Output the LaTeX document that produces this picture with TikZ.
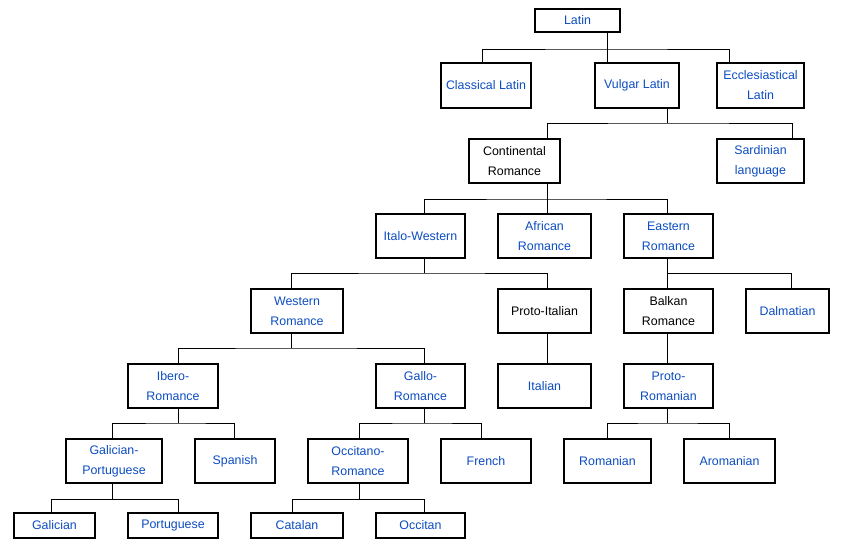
\documentclass[tikz,border=0pt]{standalone}
\usepackage{fontspec}
\setmainfont{Liberation Sans}
\usepackage{tikz}

\definecolor{linkblue}{HTML}{0B4CC0}

\begin{document}
\begin{tikzpicture}[x=1pt, y=-1pt,
        box/.style={draw, line width=2pt, align=center, inner sep=0pt,
                    font=\fontsize{12.4}{20}\selectfont, text=linkblue},
        plainbox/.style={box, text=black},
        link/.style={line width=0.8pt}]
                \useasboundingbox (0,0) rectangle (846,547);

                % row 1 and 2
                \node (latin) [box, minimum width=85pt, minimum height=23pt] at (577.5,20.5) {Latin};
                \node (classical) [box, minimum width=90pt, minimum height=45pt] at (486,85.5) {Classical Latin};
                \node (vulgar) [box, minimum width=84pt, minimum height=45pt] at (637,85.5) {Vulgar Latin};
                \node (eccl) [box, minimum width=87pt, minimum height=45pt] at (760.5,85.5) {Ecclesiastical\\Latin};

                % row 3 and 4
                \node (continental) [plainbox, minimum width=91pt, minimum height=44pt] at (514.5,161) {Continental\\Romance};
                \node (sardinian) [box, minimum width=87pt, minimum height=44pt] at (760.5,161) {Sardinian\\language};
                \node (italo) [box, minimum width=89pt, minimum height=44pt] at (420.5,236) {Italo-Western};
                \node (african) [box, minimum width=93pt, minimum height=44pt] at (544.5,236) {African\\Romance};
                \node (eastern) [box, minimum width=89pt, minimum height=44pt] at (668.5,236) {Eastern\\Romance};

                % row 5 and 6
                \node (western) [box, minimum width=92pt, minimum height=44pt] at (297,311) {Western\\Romance};
                \node (protoitalian) [plainbox, minimum width=93pt, minimum height=44pt] at (544.5,311) {Proto-Italian};
                \node (balkan) [plainbox, minimum width=89pt, minimum height=44pt] at (668.5,311) {Balkan\\Romance};
                \node (dalmatian) [box, minimum width=83pt, minimum height=44pt] at (787.5,311) {Dalmatian};
                \node (ibero) [box, minimum width=90pt, minimum height=44pt] at (173,386) {Ibero-\\Romance};
                \node (gallo) [box, minimum width=89pt, minimum height=44pt] at (420.5,386) {Gallo-\\Romance};
                \node (italian) [box, minimum width=93pt, minimum height=44pt] at (544.5,386) {Italian};
                \node (protorom) [box, minimum width=89pt, minimum height=44pt] at (668.5,386) {Proto-\\Romanian};

                % row 7 and 8
                \node (galport) [box, minimum width=96pt, minimum height=44pt] at (114,461) {Galician-\\Portuguese};
                \node (spanish) [box, minimum width=80pt, minimum height=44pt] at (235,461) {Spanish};
                \node (occitano) [box, minimum width=100pt, minimum height=44pt] at (358,461) {Occitano-\\Romance};
                \node (french) [box, minimum width=90pt, minimum height=44pt] at (486,461) {French};
                \node (romanian) [box, minimum width=87pt, minimum height=44pt] at (607.5,461) {Romanian};
                \node (aromanian) [box, minimum width=91pt, minimum height=44pt] at (729.5,461) {Aromanian};
                \node (galician) [box, minimum width=81pt, minimum height=25pt] at (54.5,525.5) {Galician};
                \node (portuguese) [box, minimum width=90pt, minimum height=25pt] at (173,525.5) {Portuguese};
                \node (catalan) [box, minimum width=92pt, minimum height=25pt] at (297,525.5) {Catalan};
                \node (occitan) [box, minimum width=89pt, minimum height=25pt] at (420.5,525.5) {Occitan};

                % junctions
                \coordinate (jlatin) at (607,49);
                \coordinate (jvulgar) at (667,123);
                \coordinate (jcont) at (547,199);
                \coordinate (jitalo) at (424,273);
                \coordinate (jeast) at (667,273);
                \coordinate (jwest) at (291,348);
                \coordinate (jibero) at (178,423);
                \coordinate (jgallo) at (424,423);
                \coordinate (jprotorom) at (667,423);
                \coordinate (jgalport) at (112,499);
                \coordinate (jocc) at (359,499);

                \draw [link] (latin.south -| jlatin) -- (jlatin);
                \draw [link] ([xshift=-4pt]classical.north) |- (jlatin) -| ([xshift=-31.5pt]eccl.north);
                \draw [link] (vulgar.north -| jlatin) -- (jlatin);

                \draw [link] (vulgar.south -| jvulgar) -- (jvulgar);
                \draw [link] ([xshift=32.5pt]continental.north) |- (jvulgar) -| ([xshift=31.5pt]sardinian.north);

                \draw [link] (continental.south -| jcont) -- (jcont);
                \draw [link] ([xshift=3.5pt]italo.north) |- (jcont) -| ([xshift=-1.5pt]eastern.north);
                \draw [link] (african.north -| jcont) -- (jcont);

                \draw [link] (italo.south -| jitalo) -- (jitalo);
                \draw [link] ([xshift=-6pt]western.north) |- (jitalo) -| ([xshift=2.5pt]protoitalian.north);

                \draw [link] (eastern.south -| jeast) -- (jeast);
                \draw [link] (balkan.north -| jeast) |- (jeast) -| ([xshift=3.5pt]dalmatian.north);

                \draw [link] (western.south -| jwest) -- (jwest);
                \draw [link] ([xshift=5pt]ibero.north) |- (jwest) -| ([xshift=3.5pt]gallo.north);

                \draw [link] ([xshift=2.5pt]protoitalian.south) -- ([xshift=2.5pt]italian.north);
                \draw [link] ([xshift=-1.5pt]balkan.south) -- ([xshift=-1.5pt]protorom.north);

                \draw [link] (ibero.south -| jibero) -- (jibero);
                \draw [link] ([xshift=-2pt]galport.north) |- (jibero) -| ([xshift=-1pt]spanish.north);

                \draw [link] (gallo.south -| jgallo) -- (jgallo);
                \draw [link] ([xshift=1pt]occitano.north) |- (jgallo) -| ([xshift=-5pt]french.north);

                \draw [link] (protorom.south -| jprotorom) -- (jprotorom);
                \draw [link] ([xshift=-0.5pt]romanian.north) |- (jprotorom) -| ([xshift=-0.5pt]aromanian.north);

                \draw [link] (galport.south -| jgalport) -- (jgalport);
                \draw [link] ([xshift=-3.5pt]galician.north) |- (jgalport) -| ([xshift=5pt]portuguese.north);

                \draw [link] (occitano.south -| jocc) -- (jocc);
                \draw [link] ([xshift=-5pt]catalan.north) |- (jocc) -| ([xshift=3.5pt]occitan.north);
            \end{tikzpicture}
\end{document}
